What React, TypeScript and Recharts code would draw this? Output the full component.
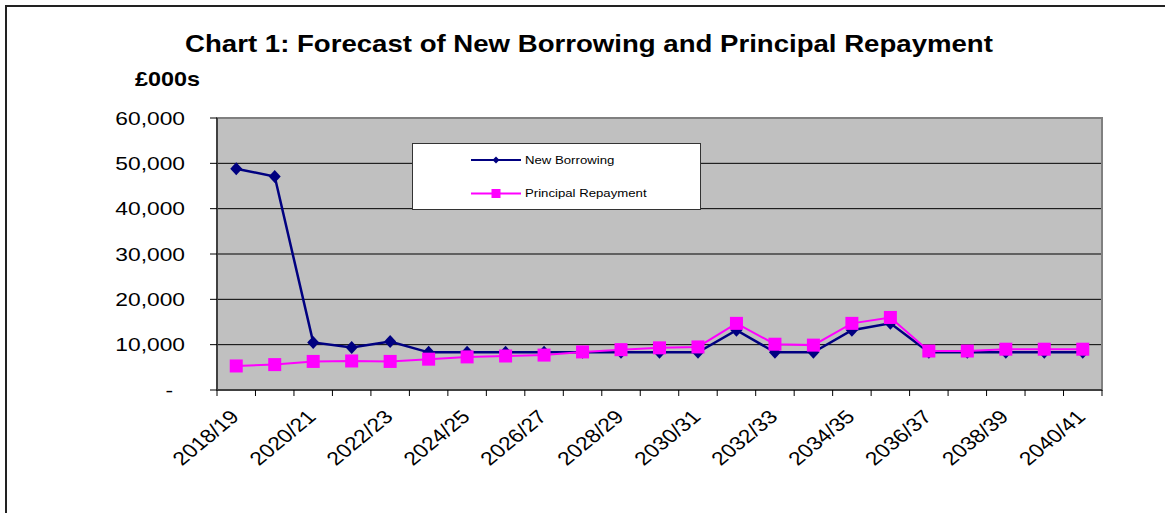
import { LineChart, Line, XAxis, YAxis, CartesianGrid, ReferenceArea, Legend } from "recharts";

const years = [
  "2018/19", "2019/20", "2020/21", "2021/22", "2022/23", "2023/24", "2024/25", "2025/26",
  "2026/27", "2027/28", "2028/29", "2029/30", "2030/31", "2031/32", "2032/33", "2033/34",
  "2034/35", "2035/36", "2036/37", "2037/38", "2038/39", "2039/40", "2040/41",
];

const newBorrowing = [
  48800, 47100, 10500, 9400, 10700, 8300, 8300, 8300, 8300, 8300, 8300, 8300,
  8300, 13200, 8300, 8300, 13200, 14700, 8300, 8300, 8300, 8300, 8300,
];

const principalRepayment = [
  5300, 5600, 6300, 6400, 6300, 6800, 7300, 7500, 7700, 8400, 8900, 9300,
  9500, 14700, 10100, 9900, 14700, 16000, 8600, 8600, 9000, 9000, 9000,
];

const yTicks = [0, 10000, 20000, 30000, 40000, 50000, 60000];

const data = years.map((year, i) => ({
  year,
  newBorrowing: newBorrowing[i],
  principalRepayment: principalRepayment[i],
}));

const font = "Arial, 'Liberation Sans', sans-serif";
const navy = "#000080";
const magenta = "#FF00FF";

// the source image is stretched sideways, so text gets a scaleX too
const stretch = 1.2;

const fmt = (v: number) => String(v).replace(/\B(?=(\d{3})+(?!\d))/g, ",");

const YTick = (props: any) => {
  const { x, y, payload } = props;
  const isZero = payload.value === 0;
  return (
    <text
      transform={`translate(${isZero ? x - 12 : x},${y}) scale(${stretch},1)`}
      textAnchor="end"
      dy="0.35em"
      fontSize={19}
      fontFamily={font}
      fill="#000"
    >
      {isZero ? "-" : fmt(payload.value)}
    </text>
  );
};

const XTick = (props: any) => {
  const { x, y, payload, index, visibleTicksCount, width } = props;
  const half = payload.offset || width / visibleTicksCount / 2;
  const last = index === visibleTicksCount - 1;
  return (
    <g>
      <line x1={x - half} x2={x - half} y1={y} y2={y + 6} stroke="#000" />
      {last && <line x1={x + half} x2={x + half} y1={y} y2={y + 6} stroke="#000" />}
      {index % 2 === 0 && (
        <text
          transform={`translate(${x + 4},${y + 28}) scale(${stretch},1) rotate(-45)`}
          textAnchor="end"
          fontSize={19}
          fontFamily={font}
          fill="#000"
        >
          {payload.value}
        </text>
      )}
    </g>
  );
};

const Diamond = (props: any) => {
  const { cx, cy, index } = props;
  if (cx == null || cy == null) return <g key={`nb-${index}`} />;
  return (
    <path
      key={`nb-${index}`}
      d={`M${cx},${cy - 6.5}L${cx + 6},${cy}L${cx},${cy + 6.5}L${cx - 6},${cy}Z`}
      fill={navy}
    />
  );
};

const Square = (props: any) => {
  const { cx, cy, index } = props;
  if (cx == null || cy == null) return <g key={`pr-${index}`} />;
  return <rect key={`pr-${index}`} x={cx - 6.5} y={cy - 6.5} width={13} height={13} fill={magenta} />;
};

const LegendBox = ({ payload }: any) => (
  <svg width={289} height={67} style={{ display: "block" }}>
    <rect x={0.5} y={0.5} width={288} height={66} fill="#fff" stroke="#333" />
    {(payload || []).map((p: any, i: number) => {
      const cy = 17 + i * 33.5;
      return (
        <g key={p.value}>
          <line x1={59} x2={109} y1={cy} y2={cy} stroke={p.color} strokeWidth={2} />
          {i === 0 ? (
            <path d={`M84,${cy - 3.5}L87.5,${cy}L84,${cy + 3.5}L80.5,${cy}Z`} fill={p.color} />
          ) : (
            <rect x={79.5} y={cy - 4.5} width={9} height={9} fill={p.color} />
          )}
          <text
            transform={`translate(113,${cy}) scale(${stretch},1)`}
            dy="0.35em"
            fontSize={11}
            fontFamily={font}
            fill="#000"
          >
            {p.value}
          </text>
        </g>
      );
    })}
  </svg>
);

export default function App() {
  return (
    <div
      style={{
        position: "absolute",
        left: 0,
        top: 0,
        width: 1165,
        height: 513,
        overflow: "hidden",
        background: "#fff",
      }}
    >
      <div
        style={{
          position: "absolute",
          left: 5,
          top: 5,
          width: 1400,
          height: 800,
          border: "2px solid #222",
        }}
      />

      <LineChart
        width={1165}
        height={513}
        data={data}
        margin={{ top: 118, right: 63, left: 0, bottom: 0 }}
      >
        <CartesianGrid vertical={false} stroke="#000" fill="#C0C0C0" fillOpacity={1} />
        <ReferenceArea y1={0} y2={60000} fill="none" stroke="#808080" strokeWidth={2} />
        <XAxis
          dataKey="year"
          scale="band"
          interval={0}
          height={123}
          tickSize={0}
          tickMargin={0}
          tick={<XTick />}
          axisLine={{ stroke: "#404040", strokeWidth: 2 }}
        />
        <YAxis
          width={217}
          domain={[0, 60000]}
          ticks={yTicks}
          tickSize={7}
          tickMargin={25}
          tick={<YTick />}
          tickLine={{ stroke: "#000" }}
          axisLine={{ stroke: "#404040", strokeWidth: 2 }}
        />
        <Legend
          layout="vertical"
          align="center"
          verticalAlign="middle"
          content={<LegendBox />}
          wrapperStyle={{ position: "absolute", left: 412, top: 143, width: 289, height: 67 }}
        />
        <Line
          type="linear"
          dataKey="newBorrowing"
          name="New Borrowing"
          stroke={navy}
          strokeWidth={2.5}
          dot={Diamond}
          activeDot={false}
          isAnimationActive={false}
        />
        <Line
          type="linear"
          dataKey="principalRepayment"
          name="Principal Repayment"
          stroke={magenta}
          strokeWidth={2}
          dot={Square}
          activeDot={false}
          isAnimationActive={false}
        />
      </LineChart>

      <svg
        width={1165}
        height={513}
        style={{ position: "absolute", left: 0, top: 0, pointerEvents: "none" }}
      >
        <text
          transform={`translate(589,52) scale(${stretch},1)`}
          textAnchor="middle"
          fontSize={23}
          fontWeight="bold"
          fontFamily={font}
          fill="#000"
        >
          Chart 1: Forecast of New Borrowing and Principal Repayment
        </text>
        <text
          transform="translate(135,86) scale(1.17,1)"
          fontSize={20}
          fontWeight="bold"
          fontFamily={font}
          fill="#000"
        >
          £000s
        </text>
      </svg>
    </div>
  );
}
